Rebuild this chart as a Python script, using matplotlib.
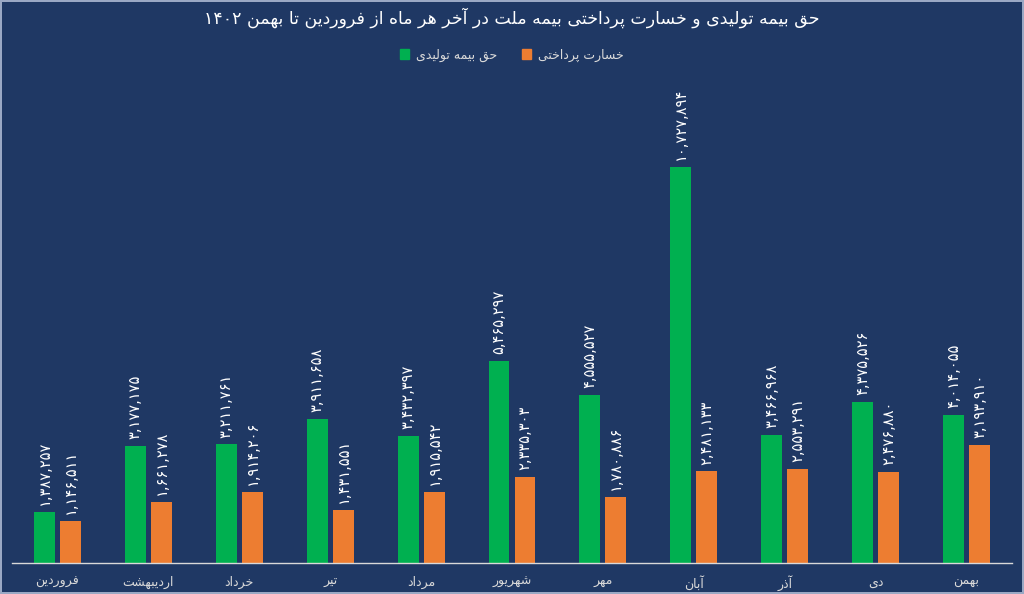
import re
import numpy as np
import matplotlib.pyplot as plt
from matplotlib.patches import Patch

# data
months = ['فروردین', 'اردیبهشت', 'خرداد', 'تیر', 'مرداد', 'شهریور',
          'مهر', 'آبان', 'آذر', 'دی', 'بهمن']
premium = [1387257, 3177175, 3211761, 3911658, 3432397, 5465297,
           4555527, 10727894, 3466968, 4375526, 4014055]
claims = [1146511, 1661278, 1914206, 1431551, 1915542, 2335303,
          1780886, 2481133, 2553291, 2476880, 3193910]
title = 'حق بیمه تولیدی و خسارت پرداختی بیمه ملت در آخر هر ماه از فروردین تا بهمن ۱۴۰۲'
name_premium = 'حق بیمه تولیدی'
name_claims = 'خسارت پرداختی'

# minimal arabic/persian shaping (matplotlib has no bidi / joining support)
# isolated, final, initial, medial
FORMS = {
    'ا': ('\uFE8D', '\uFE8E', None, None),
    'آ': ('\uFE81', '\uFE82', None, None),
    'ب': ('\uFE8F', '\uFE90', '\uFE91', '\uFE92'),
    'پ': ('\uFB56', '\uFB57', '\uFB58', '\uFB59'),
    'ت': ('\uFE95', '\uFE96', '\uFE97', '\uFE98'),
    'ح': ('\uFEA1', '\uFEA2', '\uFEA3', '\uFEA4'),
    'خ': ('\uFEA5', '\uFEA6', '\uFEA7', '\uFEA8'),
    'د': ('\uFEA9', '\uFEAA', None, None),
    'ذ': ('\uFEAB', '\uFEAC', None, None),
    'ر': ('\uFEAD', '\uFEAE', None, None),
    'ز': ('\uFEAF', '\uFEB0', None, None),
    'س': ('\uFEB1', '\uFEB2', '\uFEB3', '\uFEB4'),
    'ش': ('\uFEB5', '\uFEB6', '\uFEB7', '\uFEB8'),
    'ف': ('\uFED1', '\uFED2', '\uFED3', '\uFED4'),
    'ق': ('\uFED5', '\uFED6', '\uFED7', '\uFED8'),
    'ل': ('\uFEDD', '\uFEDE', '\uFEDF', '\uFEE0'),
    'م': ('\uFEE1', '\uFEE2', '\uFEE3', '\uFEE4'),
    'ن': ('\uFEE5', '\uFEE6', '\uFEE7', '\uFEE8'),
    'ه': ('\uFEE9', '\uFEEA', '\uFEEB', '\uFEEC'),
    'و': ('\uFEED', '\uFEEE', None, None),
    'ی': ('\uFBFC', '\uFBFD', '\uFBFE', '\uFBFF'),
}
FA_DIGITS = str.maketrans('0123456789', '۰۱۲۳۴۵۶۷۸۹')


def fa(s):
    out = []
    for i, c in enumerate(s):
        if c not in FORMS:
            out.append(c)
            continue
        prev = s[i - 1] if i > 0 else None
        nxt = s[i + 1] if i + 1 < len(s) else None
        jp = prev in FORMS and FORMS[prev][2] is not None
        jn = FORMS[c][2] is not None and nxt in FORMS
        iso, fin, ini, med = FORMS[c]
        out.append(med if (jp and jn) else fin if jp else ini if jn else iso)
    vis = ''.join(out)[::-1]
    return re.sub('[۰-۹0-9,]+', lambda m: m.group(0)[::-1], vis)


def fa_num(v):
    return f'{v:,}'.translate(FA_DIGITS)


bg = '#1F3864'
green = '#00B050'
orange = '#ED7D31'
txt = '#D9D9D9'

plt.rcParams['font.family'] = ['DejaVu Sans']

fig = plt.figure(figsize=(10.24, 5.94), dpi=100, facecolor=bg)
fig.patch.set_edgecolor('#9AA8C4')
fig.patch.set_linewidth(1.5)
ax = fig.add_axes([12 / 1024, 31 / 594, 1000 / 1024, 483 / 594])
ax.set_facecolor(bg)

x = np.arange(len(months))
w = 0.23
off = 0.143
b1 = ax.bar(x - off, premium, w, color=green)
b2 = ax.bar(x + off, claims, w, color=orange)

for bars, vals in ((b1, premium), (b2, claims)):
    for r, v in zip(bars, vals):
        ax.annotate(fa_num(v), (r.get_x() + r.get_width() / 2, r.get_height()),
                    xytext=(0, 5), textcoords='offset points', rotation=90,
                    ha='center', va='bottom', color='white', fontsize=10.5)

ax.set_xlim(-0.5, len(months) - 0.5)
ax.set_ylim(0, 13.09e6)
ax.set_xticks(x)
ax.set_xticklabels([fa(m) for m in months], color=txt, fontsize=9)
ax.tick_params(axis='x', length=0, pad=9)
ax.set_yticks([])
for s in ['top', 'left', 'right']:
    ax.spines[s].set_visible(False)
ax.spines['bottom'].set_color(txt)
ax.spines['bottom'].set_linewidth(1)

fig.text(0.5, 1 - 18 / 594, fa(title), ha='center', va='center',
         color='white', fontsize=12.5)

handles = [Patch(color=green, label=fa(name_premium)),
           Patch(color=orange, label=fa(name_claims))]
leg = fig.legend(handles=handles, loc='center', ncol=2,
                 bbox_to_anchor=(0.5, 1 - 55 / 594), frameon=False,
                 fontsize=9, handlelength=0.7, handleheight=0.9,
                 handletextpad=0.6, columnspacing=2.0)
for t in leg.get_texts():
    t.set_color(txt)

fig.savefig('out.png', dpi=100, facecolor=bg, edgecolor=fig.get_edgecolor())
